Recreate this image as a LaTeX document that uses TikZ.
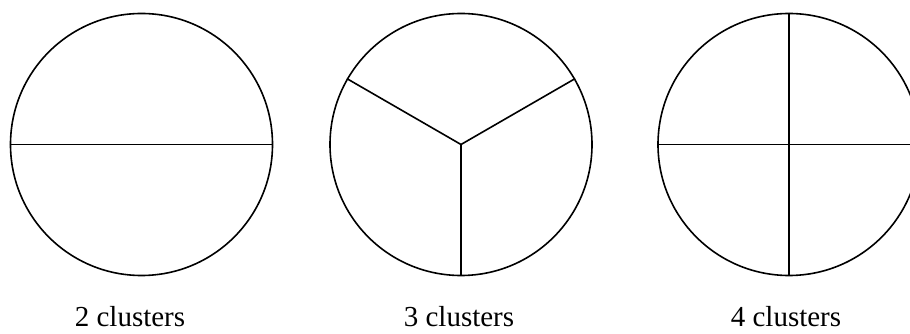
\documentclass[tikz,border=0pt]{standalone}
\usepackage{fontspec}
\setmainfont{Liberation Serif}
\begin{document}
\begin{tikzpicture}[x=1pt,y=1pt]
        \tikzstyle{cluster}=[circle, draw, line width=1.6pt, minimum size=262pt, inner sep=0pt]
        \tikzstyle{cut}=[line width=1.6pt]
        \tikzstyle{caption}=[anchor=base, inner sep=0pt, font=\fontsize{29}{34}\selectfont]

        \useasboundingbox (0,0) rectangle (910,334);
        \clip (0,0) rectangle (910,334);

        \node[cluster] (c2) at (141.5,189.5) {};
        \node[cluster] (c3) at (461,189.5) {};
        \node[cluster] (c4) at (789,189.5) {};

        \draw[cut] (c2.west) -- (c2.east);

        \draw[cut] (c3.center) -- (c3.150);
        \draw[cut] (c3.center) -- (c3.30);
        \draw[cut] (c3.center) -- (c3.south);

        \draw[cut] (c4.west) -- (c4.east);
        \draw[cut] (c4.north) -- (c4.south);

        \node[caption] (l2) at (130,7) {2 clusters};
        \node[caption] (l3) at (459,7) {3 clusters};
        \node[caption] (l4) at (786,7) {4 clusters};
    \end{tikzpicture}
\end{document}
